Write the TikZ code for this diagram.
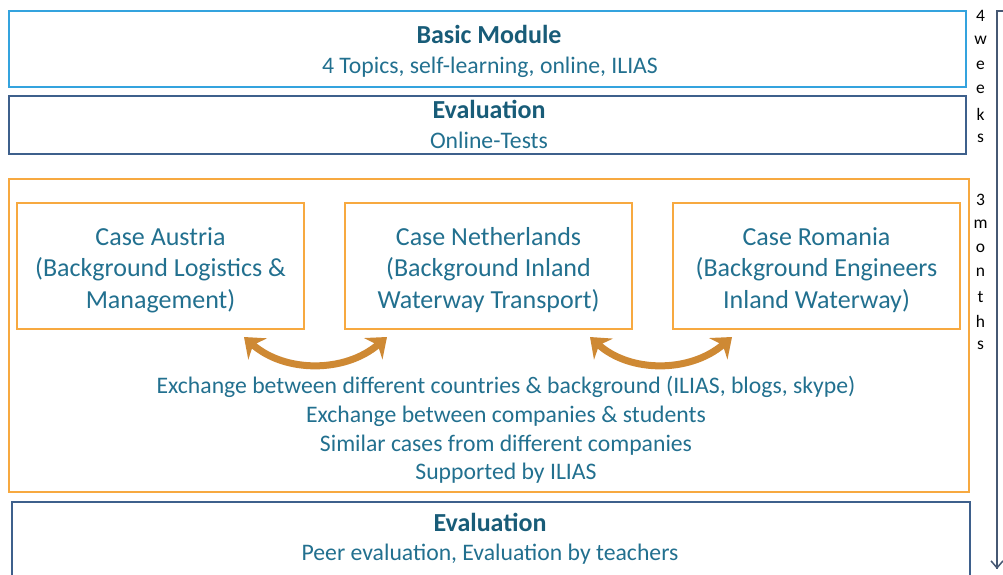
\documentclass[tikz,border=0pt]{standalone}
\usepackage{fontspec}
\setmainfont{Carlito}
\usetikzlibrary{arrows.meta}
\definecolor{topblue}{RGB}{52,163,222}
\definecolor{darkbox}{RGB}{62,96,140}
\definecolor{boxorange}{RGB}{247,169,64}
\definecolor{arroworange}{RGB}{206,137,52}
\definecolor{titletxt}{RGB}{24,92,120}
\definecolor{bodytxt}{RGB}{34,112,143}
\definecolor{bracketcol}{RGB}{70,88,115}
\tikzset{
  box/.style={draw, line width=2.4pt, rectangle, inner sep=0pt},
  casebox/.style={draw=boxorange, line width=2pt, rectangle, inner sep=0pt, align=center, text=bodytxt,
     minimum width=287pt, minimum height=126pt, font=\fontsize{26}{31.5}\selectfont},
  titletext/.style={inner sep=0pt, anchor=base, text=titletxt, font=\fontsize{26}{30}\selectfont\bfseries},
  subtext/.style={inner sep=0pt, anchor=base, text=bodytxt, font=\fontsize{23.7}{30}\selectfont},
  sidelet/.style={inner sep=0pt, font=\fontsize{17.5}{17.5}\selectfont, text=black, anchor=center},
  xarrow/.style={draw=arroworange, line width=7pt, {Stealth[length=18pt,width=28pt]}-{Stealth[length=18pt,width=28pt]}},
  plain/.style={inner sep=0pt, align=center, text=bodytxt}
}
\begin{document}
\begin{tikzpicture}[x=1pt,y=-1pt]
\useasboundingbox (0,0) rectangle (1003,574);
\clip (0,0) rectangle (1003,574);
% top boxes
\node[box, draw=topblue, minimum width=957pt, minimum height=76pt] (basic) at (487.5,49) {};
\node[titletext] (basicT) at (489,43.5) {Basic Module};
\node[subtext] (basicS) at (490,73) {4 Topics, self-learning,\ online, ILIAS};
\node[box, draw=darkbox, minimum width=957pt, minimum height=58pt] (eval1) at (487.5,125) {};
\node[titletext] (eval1T) at (489,118) {Evaluation};
\node[subtext] (eval1S) at (489,148) {Online-Tests};
% outer orange
\node[box, draw=boxorange, minimum width=960pt, minimum height=313pt] (outer) at (489,335.5) {};
% cases
\node[casebox] (austria) at (160.5,266) {\rule{0pt}{25.5pt}Case Austria\\(Background Logistics \&\\Management)};
\node[casebox] (nl) at (488.5,266) {\rule{0pt}{25.5pt}Case Netherlands\\(Background Inland\\Waterway Transport)};
\node[casebox] (ro) at (816.5,266) {\rule{0pt}{25.5pt}Case Romania\\(Background Engineers\\Inland Waterway)};
% arrows
\coordinate (a1) at (244,337);
\coordinate (a2) at (387,337);
\coordinate (b1) at (590,337);
\coordinate (b2) at (732,337);
\draw[xarrow] (a1) .. controls (285,373) and (345,373) .. (a2);
\draw[xarrow] (b1) .. controls (630,373) and (690,373) .. (b2);
% exchange text
\node[plain, font=\fontsize{23.7}{28.7}\selectfont] (exch) at (506,430)
  {Exchange between different countries \& background (ILIAS, blogs, skype)\\
   Exchange between companies \& students\\
   Similar cases from different companies\\
   Supported by ILIAS};
% bottom box
\node[box, draw=darkbox, minimum width=958pt, minimum height=90pt, anchor=north] (eval2) at (491,501) {};
\node[titletext] (eval2T) at (490,531) {Evaluation};
\node[subtext] (eval2S) at (490,560) {Peer evaluation, Evaluation by teachers};
% side letters
\foreach \l [count=\i] in {4,w,e,e,k,s} {
  \node[sidelet] (w\i) at (980.5,{16+24.5*(\i-1)}) {\l};
}
\foreach \l [count=\i] in {3,m,o,n,t,h,s} {
  \node[sidelet] (m\i) at (980.5,{200+24.2*(\i-1)}) {\l};
}
% bracket
\coordinate (bt) at (997,11);
\coordinate (btr) at (1003,11);
\coordinate (bb) at (997,569);
\draw[bracketcol, line width=2pt] (btr) -- (bt) -- (bb);
\draw[bracketcol, line width=1.5pt, {Straight Barb[length=7pt,width=12pt]}-] (bb) -- ++(0,-10);
\end{tikzpicture}
\end{document}
